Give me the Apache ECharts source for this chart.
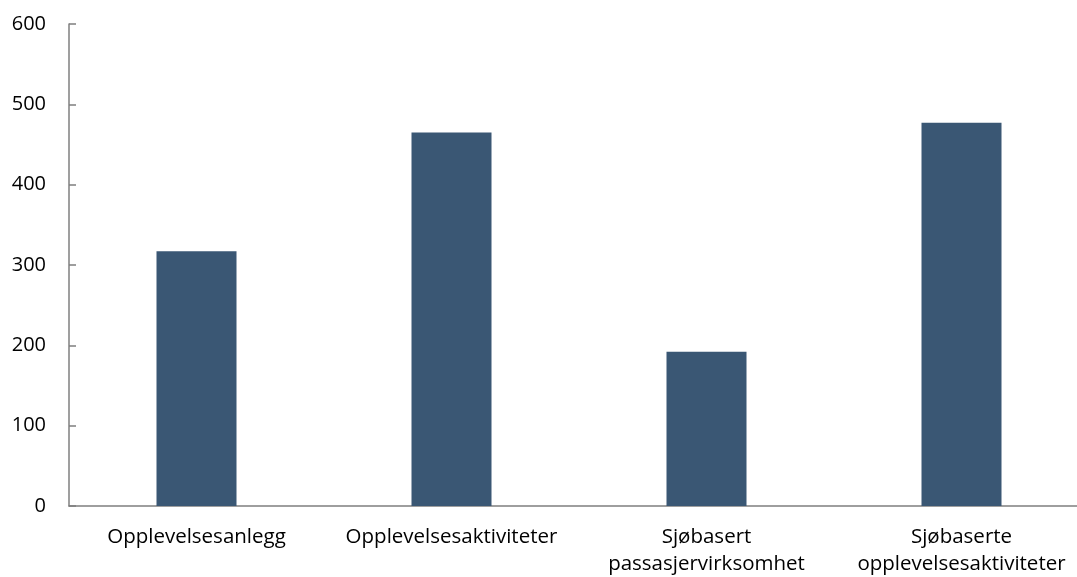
<!DOCTYPE html>
<html>
<head>
<meta charset="utf-8">
<script src="https://cdn.jsdelivr.net/npm/echarts@6/dist/echarts.min.js"></script>
<style>
  html, body { margin: 0; padding: 0; background: #fff; }
  #chart { width: 1077px; height: 577px; }
</style>
</head>
<body>
<div id="chart"></div>
<script>
// Categories of activity and their values
const categories = [
  'Opplevelsesanlegg',
  'Opplevelsesaktiviteter',
  'Sjøbasert\npassasjervirksomhet',
  'Sjøbaserte\nopplevelsesaktiviteter'
];
const values = [317, 465, 192, 477];
const yTicks = [0, 100, 200, 300, 400, 500, 600];

const chart = echarts.init(document.getElementById('chart'));
chart.setOption({
  animation: false,
  // plot area runs slightly past the right edge of the canvas
  grid: {
    left: 69, width: 1020, top: 24, height: 482,
    containLabel: false,
    outerBoundsMode: 'none'
  },
  xAxis: {
    type: 'category',
    data: categories,
    axisLine: { lineStyle: { color: '#7f7f7f', width: 1.5 } },
    axisTick: { show: false },
    axisLabel: {
      color: '#000',
      fontFamily: 'Open Sans',
      fontSize: 20.5,
      lineHeight: 27,
      margin: 18,
      interval: 0
    }
  },
  yAxis: {
    type: 'value',
    min: yTicks[0],
    max: yTicks[yTicks.length - 1],
    interval: 100,
    splitLine: { show: false },
    axisLine: { show: true, lineStyle: { color: '#7f7f7f', width: 1.5 } },
    axisTick: { show: true, inside: true, length: 7, lineStyle: { color: '#7f7f7f', width: 1.5 } },
    axisLabel: {
      color: '#000',
      fontFamily: 'Open Sans',
      fontSize: 20,
      margin: 23
    }
  },
  series: [{
    type: 'bar',
    data: values,
    barWidth: 80,
    itemStyle: { color: '#3a5774' }
  }]
});
</script>
</body>
</html>
